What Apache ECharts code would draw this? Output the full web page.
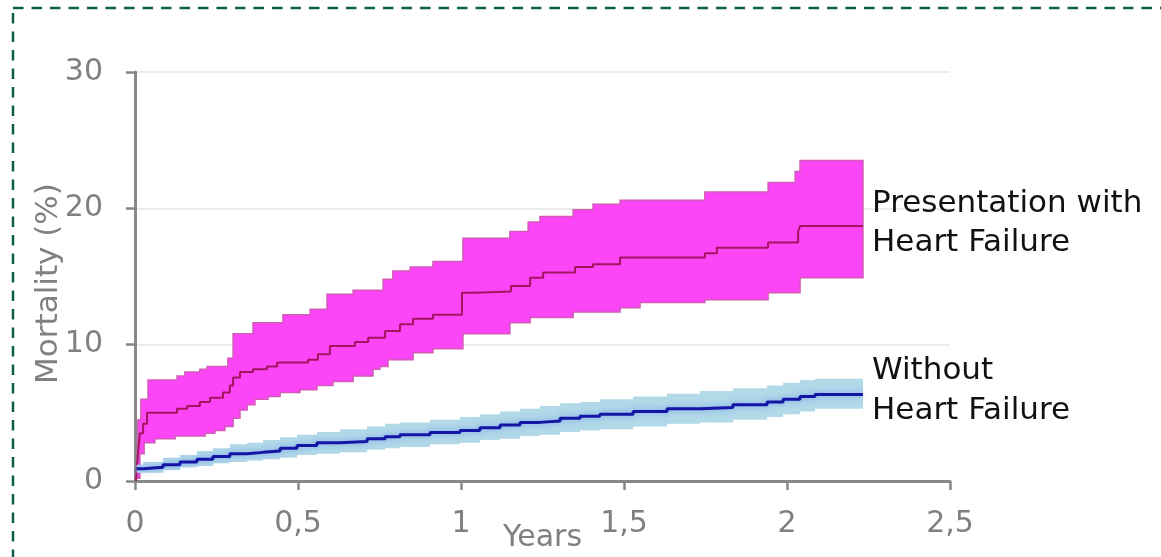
<!DOCTYPE html>
<html>
<head>
<meta charset="utf-8">
<script src="https://cdn.jsdelivr.net/npm/echarts@6/dist/echarts.min.js"></script>
<style>
html,body{margin:0;padding:0;background:#fff;overflow:hidden;}
#chart{width:1161px;height:557px;}
</style>
</head>
<body>
<div id="chart"></div>
<script>
// ---- Data ----
const xTicks = [0, 0.5, 1, 1.5, 2, 2.5];
const yTicks = [0, 10, 20, 30];
const endTime = 2.233;

// Presentation with heart failure: estimate
const hfEstT = [0.003,0.009,0.015,0.025,0.037,0.129,0.160,0.199,0.230,0.270,0.291,0.301,0.322,0.362,0.405,0.436,0.531,0.561,0.598,0.675,0.715,0.767,0.813,0.853,0.914,1.003,1.043,1.153,1.212,1.252,1.350,1.405,1.488,1.748,1.785,1.942,2.034,2.040];
const hfEstV = [0,2.0,3.5,4.2,5.0,5.3,5.5,5.8,6.1,6.5,7.0,7.6,8.0,8.2,8.4,8.7,8.9,9.3,9.9,10.2,10.5,11.0,11.5,11.9,12.2,13.8,13.9,14.3,14.9,15.3,15.7,15.9,16.4,16.7,17.1,17.5,18.3,18.7];
// upper confidence limit
const hfHighT = [0.009,0.018,0.040,0.129,0.153,0.199,0.221,0.285,0.301,0.362,0.454,0.537,0.589,0.669,0.761,0.791,0.844,0.914,1.006,1.150,1.206,1.242,1.344,1.405,1.488,1.748,1.942,2.025,2.040];
const hfHighV = [4.5,6.0,7.4,7.7,8.0,8.2,8.4,9.0,10.8,11.6,12.2,12.6,13.7,14.0,14.8,15.4,15.7,16.1,17.8,18.3,19.0,19.4,19.9,20.3,20.6,21.2,21.9,22.7,23.5];
// lower confidence limit
const hfLowT = [0.006,0.015,0.028,0.061,0.123,0.215,0.245,0.276,0.301,0.322,0.344,0.368,0.408,0.445,0.506,0.558,0.607,0.669,0.730,0.751,0.776,0.853,0.914,1.006,1.150,1.212,1.344,1.488,1.549,1.748,1.942,2.040];
const hfLowV = [0.2,2.0,2.8,3.1,3.3,3.5,3.7,4.0,4.6,5.2,5.6,6.0,6.2,6.5,6.7,7.0,7.3,7.7,8.2,8.4,8.9,9.4,9.7,10.8,11.6,12.0,12.4,12.7,13.1,13.3,13.8,14.9];

// Without heart failure
const nonT = [0.005,0.025,0.086,0.138,0.190,0.239,0.291,0.344,0.393,0.445,0.497,0.558,0.629,0.712,0.767,0.813,0.905,0.997,1.058,1.120,1.181,1.242,1.304,1.365,1.426,1.528,1.632,1.733,1.834,1.939,1.988,2.040,2.086];
const nonV = [0.9,1.0,1.2,1.4,1.6,1.8,2.0,2.1,2.2,2.4,2.6,2.8,2.9,3.1,3.25,3.4,3.55,3.7,3.9,4.1,4.3,4.4,4.6,4.75,4.9,5.1,5.3,5.4,5.6,5.8,6.0,6.2,6.35];
const nonHigh = [1.2,1.4,1.7,1.9,2.2,2.4,2.7,2.8,3.0,3.2,3.4,3.6,3.8,4.0,4.2,4.3,4.5,4.7,4.9,5.1,5.3,5.5,5.7,5.8,6.0,6.2,6.4,6.6,6.8,7.0,7.2,7.4,7.5];
const nonLow = [0.6,0.6,0.8,1.0,1.1,1.3,1.4,1.5,1.6,1.7,1.9,2.0,2.1,2.3,2.4,2.5,2.7,2.8,3.0,3.1,3.3,3.4,3.6,3.7,3.8,4.0,4.2,4.3,4.5,4.7,4.9,5.1,5.3];

const labelHF = ['Presentation with', 'Heart Failure'];
const labelNon = ['Without', 'Heart Failure'];

// ---- helpers ----
function pairs(ts, vs) {
  const out = ts.map((t, i) => [t, vs[i]]);
  out.push([endTime, vs[vs.length - 1]]);
  return out;
}
function stepVerts(ts, vs) {
  const out = [];
  for (let i = 0; i < ts.length; i++) {
    const tNext = i + 1 < ts.length ? ts[i + 1] : endTime;
    out.push([ts[i], vs[i]]);
    out.push([tNext, vs[i]]);
  }
  return out;
}
function bandPoly(tH, vH, tL, vL) {
  return stepVerts(tH, vH).concat(stepVerts(tL, vL).reverse());
}
const hfBand = bandPoly(hfHighT, hfHighV, hfLowT, hfLowV);
const nonBand = bandPoly(nonT, nonHigh, nonT, nonLow);

function bandSeries(poly, fill, stroke, lw, z) {
  return {
    type: 'custom',
    silent: true,
    z: z,
    data: [[0, 0]],
    renderItem: function (params, api) {
      const pts = poly.map(p => api.coord(p));
      return {
        type: 'polygon',
        shape: { points: pts },
        style: { fill: fill, stroke: stroke, lineWidth: lw }
      };
    }
  };
}

const FONT = 'DejaVu Sans';
const GREY = '#808080';
const chart = echarts.init(document.getElementById('chart'), null, { renderer: 'canvas' });

chart.setOption({
  animation: false,
  backgroundColor: '#ffffff',
  grid: { left: 135, right: 211, top: 72, bottom: 76, containLabel: false, outerBoundsMode: 'none' },
  xAxis: {
    type: 'value',
    min: xTicks[0], max: xTicks[xTicks.length - 1], interval: 0.5,
    name: 'Years', nameLocation: 'middle', nameGap: 42, nameMoveOverlap: false,
    nameTextStyle: { color: GREY, fontSize: 30, fontFamily: FONT },
    axisLine: { show: true, lineStyle: { color: '#888888', width: 3 } },
    axisTick: { show: true, length: 9, lineStyle: { color: '#888888', width: 2.5 } },
    axisLabel: {
      color: GREY, fontSize: 30, fontFamily: FONT, margin: 28,
      formatter: v => String(v).replace('.', ',')
    },
    splitLine: { show: false }
  },
  yAxis: {
    type: 'value',
    min: yTicks[0], max: yTicks[yTicks.length - 1], interval: 10,
    name: 'Mortality (%)', nameLocation: 'middle', nameGap: 71, nameMoveOverlap: false,
    nameTextStyle: { color: GREY, fontSize: 31, fontFamily: FONT, padding: [0, 14, 0, 0] },
    axisLine: { show: true, lineStyle: { color: '#888888', width: 3 } },
    axisTick: { show: true, length: 9, lineStyle: { color: '#888888', width: 2.5 } },
    axisLabel: { color: GREY, fontSize: 30, fontFamily: FONT, margin: 32 },
    splitLine: { show: true, lineStyle: { color: '#ececec', width: 2 } }
  },
  series: [
    bandSeries(hfBand, '#fb45f7', '#d25ab8', 1.5, 2),
    {
      type: 'line', step: 'end', showSymbol: false, silent: true, z: 3,
      data: pairs(hfEstT, hfEstV),
      lineStyle: { color: '#a3145e', width: 2 }
    },
    bandSeries(nonBand, '#b2d9e8', null, 0, 4),
    {
      type: 'line', step: 'end', showSymbol: false, silent: true, z: 5,
      data: pairs(nonT, nonV),
      lineStyle: { color: '#1515a5', width: 3, shadowColor: 'rgba(70,120,235,0.6)', shadowBlur: 6 }
    }
  ],
  graphic: [
    {
      type: 'rect', silent: true, z: 100,
      shape: { x: 13, y: 8, width: 1400, height: 800 },
      style: { fill: 'none', stroke: '#0e5f4a', lineWidth: 2.5, lineDash: [10.5, 8] }
    },
    { type: 'text', silent: true, z: 100, style: { x: 872, y: 204, text: labelHF[0], fill: '#111111', font: '31px "DejaVu Sans"', verticalAlign: 'middle' } },
    { type: 'text', silent: true, z: 100, style: { x: 872, y: 243, text: labelHF[1], fill: '#111111', font: '31px "DejaVu Sans"', verticalAlign: 'middle' } },
    { type: 'text', silent: true, z: 100, style: { x: 872, y: 371, text: labelNon[0], fill: '#111111', font: '31px "DejaVu Sans"', verticalAlign: 'middle' } },
    { type: 'text', silent: true, z: 100, style: { x: 872, y: 411, text: labelNon[1], fill: '#111111', font: '31px "DejaVu Sans"', verticalAlign: 'middle' } }
  ]
});
</script>
</body>
</html>
